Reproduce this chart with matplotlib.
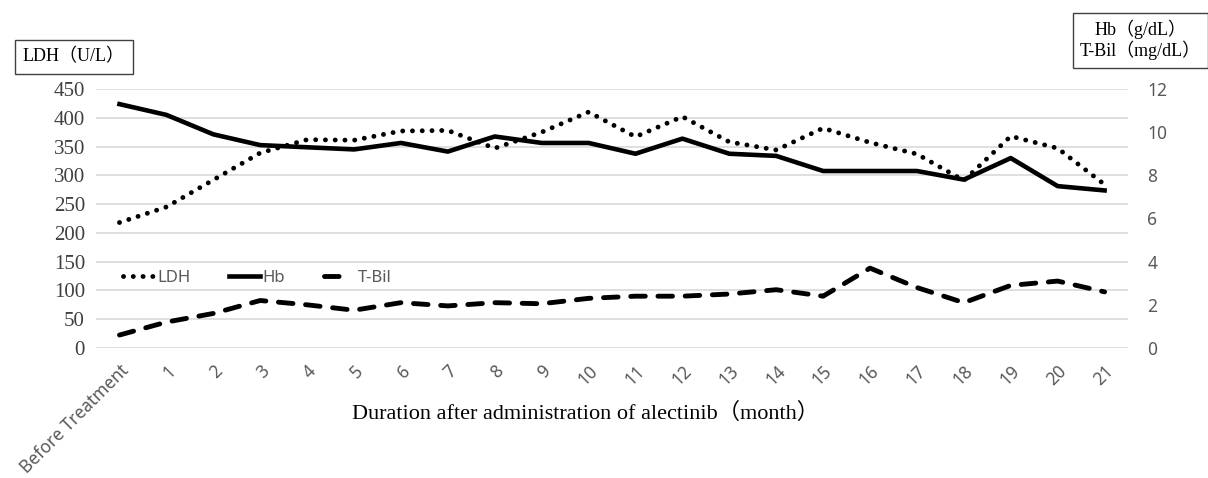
# LDH / Hb / T-Bil over time after alectinib
import matplotlib.pyplot as plt
from matplotlib.lines import Line2D

months = ["Before Treatment"] + [str(i) for i in range(1, 22)]

# LDH (U/L), left axis
ldh = [218, 245, 292, 339, 362, 361, 377, 378, 347, 375, 410, 367,
       402, 358, 344, 382, 357, 337, 291, 368, 347, 284]
# Hb (g/dL), right axis
hb = [11.3, 10.8, 9.9, 9.4, 9.3, 9.2, 9.5, 9.1, 9.8, 9.5, 9.5, 9.0,
      9.7, 9.0, 8.9, 8.2, 8.2, 8.2, 7.8, 8.8, 7.5, 7.3]
# T-Bil (mg/dL), right axis
tbil = [0.6, 1.2, 1.6, 2.2, 2.0, 1.75, 2.1, 1.95, 2.1, 2.05, 2.3, 2.4,
        2.4, 2.5, 2.7, 2.4, 3.7, 2.8, 2.1, 2.9, 3.1, 2.6]

serif = ["Liberation Serif", "Noto Sans CJK JP"]
sans = "Noto Sans"
grey = "#595959"

fig = plt.figure(figsize=(12.08, 4.78), dpi=100)
ax = fig.add_axes([0.0795, 0.272, 0.8543, 0.5418])
ax2 = ax.twinx()

x = range(len(months))
l1, = ax.plot(x, ldh, color="black", lw=3.5, linestyle=(0, (0.01, 2.0)),
              dash_capstyle="round", label="LDH")
l2, = ax2.plot(x, hb, color="black", lw=3.3, solid_joinstyle="round",
               label="Hb")
ax2.plot(x, tbil, color="black", lw=3.5, linestyle=(0, (3.0, 2.6)),
         dash_capstyle="round")
# legend proxy so the handle shows a single dash like the original
l3 = Line2D([], [], color="black", lw=3.5, linestyle=(0, (3.0, 4.5)),
            dash_capstyle="round", label="T-Bil")

ax.set_xlim(-0.5, len(months) - 0.5)
ax.set_ylim(0, 450)
ax.set_yticks(range(0, 451, 50))
ax2.set_ylim(0, 12)
ax2.set_yticks(range(0, 13, 2))

ax.grid(axis="y", color="#d9d9d9", lw=1.2)
ax.set_axisbelow(True)
for a in (ax, ax2):
    for s in a.spines.values():
        s.set_visible(False)
    a.tick_params(length=0)

ax.set_xticks(list(x))
ax.set_xticklabels(months, rotation=45, ha="right", rotation_mode="anchor",
                   fontsize=12.5, color=grey, family=sans)
ax.tick_params(axis="x", pad=10)
for t in ax.get_yticklabels():
    t.set_fontfamily(serif)
    t.set_fontsize(15)
    t.set_color("#404040")
ax.tick_params(axis="y", pad=8)
for t in ax2.get_yticklabels():
    t.set_fontfamily(sans)
    t.set_fontsize(12.5)
    t.set_color(grey)
ax2.tick_params(axis="y", pad=14)

ax.set_xlabel("Duration after administration of alectinib（month）",
              family=serif, fontsize=16)
ax.xaxis.set_label_coords(0.474, -0.21)

fig.text(0.061, 0.881, "LDH（U/L）", family=serif, fontsize=13,
         ha="center", va="center",
         bbox=dict(boxstyle="square,pad=0.45", fc="white", ec="#404040", lw=1))
fig.text(0.944, 0.916, "Hb（g/dL）\nT-Bil（mg/dL）", family=serif, fontsize=13,
         ha="center", va="center", linespacing=1.1,
         bbox=dict(boxstyle="square,pad=0.4", fc="white", ec="#404040", lw=1))

leg = ax.legend(handles=[l1, l2, l3], loc="center left",
                bbox_to_anchor=(0.018, 0.27), ncol=3, frameon=False,
                handlelength=1.9, handletextpad=0.15, columnspacing=2.3,
                borderpad=0, prop={"family": sans, "size": 12})
for t in leg.get_texts():
    t.set_color(grey)

fig.savefig("out.png", dpi=100)
